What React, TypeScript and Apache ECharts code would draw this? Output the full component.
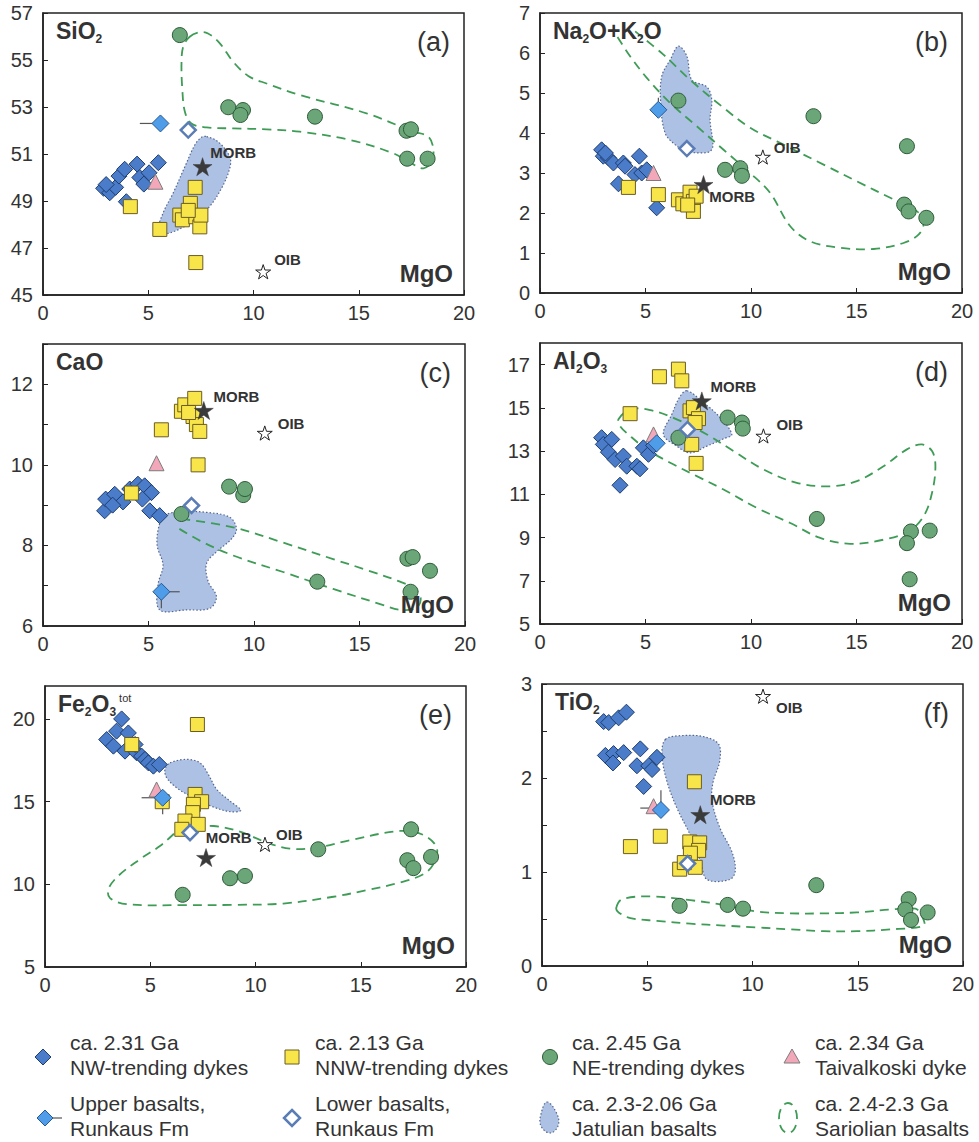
import React, { useEffect, useRef } from "react";
import * as echarts from "echarts";

const FONT = '"Liberation Sans", Arial, Helvetica, sans-serif';
const STAR =
  "path://M50,0 L61.2,34.5 L97.6,34.5 L68.2,55.9 L79.4,90.5 L50,69.1 L20.6,90.5 L31.8,55.9 L2.4,34.5 L38.8,34.5 Z";

// ---------- X axis (MgO, wt%) ----------
const X_MIN = 0;
const X_MAX = 20;
const X_INTERVAL = 5;

// ---------- Panel (a) SiO2 ----------
const NW_A = [[2.88, 49.54], [3.17, 49.35], [3.45, 49.58], [3.61, 50.06], [3.88, 50.35], [4.47, 50.57], [4.6, 50.0], [4.79, 49.72], [5.04, 50.2], [5.48, 50.63], [3.96, 48.97], [3.0, 49.7]];
const NNW_A = [[4.15, 48.76], [5.55, 47.79], [6.5, 48.4], [6.62, 48.2], [7.0, 48.9], [7.23, 49.58], [7.26, 48.33], [7.45, 47.9], [7.5, 48.4], [7.26, 46.38], [6.9, 48.6]];
const NE_A = [[6.5, 56.06], [8.8, 52.99], [9.5, 52.87], [9.38, 52.66], [12.92, 52.59], [17.27, 51.99], [17.48, 52.05], [17.3, 50.8], [18.27, 50.8]];
const TAIV_A = [[5.34, 49.82]];
const UPPER_A = [[5.58, 52.3]];
const UPPER_ERR_A = [[4.6, 52.3, 5.58, 52.3]];
const LOWER_A = [[6.9, 52.02]];
const MORB_A = [[7.58, 50.46]];
const OIB_A = [[10.46, 45.99]];
const JATULIAN_A = [[7.77, 51.74], [8.32, 51.52], [8.87, 50.89], [8.87, 50.39], [8.48, 49.54], [7.84, 48.69], [6.97, 48.05], [5.94, 47.62], [5.47, 47.7], [5.7, 48.48], [6.18, 49.33], [6.74, 50.46], [7.21, 51.38], [7.53, 51.71]];
const SARIOLIAN_A = [[6.97, 55.99], [7.45, 56.18], [7.84, 56.13], [8.4, 55.71], [9.03, 54.93], [9.75, 54.32], [10.62, 54.0], [12.2, 53.51], [15.37, 52.73], [17.59, 51.95], [18.3, 51.74], [18.54, 51.24], [18.46, 50.67], [18.07, 50.39], [17.51, 50.6], [16.64, 51.03], [14.58, 51.6], [12.2, 51.95], [10.62, 52.05], [9.03, 52.09], [7.77, 52.13], [7.05, 52.3], [6.74, 52.8], [6.62, 53.72], [6.58, 54.86], [6.66, 55.57]];

// ---------- Panel (b) Na2O+K2O ----------
const NW_B = [[2.92, 3.58], [3.0, 3.42], [3.24, 3.38], [3.48, 3.25], [3.95, 3.25], [4.03, 3.17], [3.72, 2.73], [4.71, 3.42], [4.5, 2.96], [4.82, 3.0], [5.06, 3.08], [5.53, 2.13], [3.1, 3.5]];
const NNW_B = [[4.19, 2.64], [5.61, 2.46], [6.56, 2.33], [6.77, 2.23], [7.11, 2.52], [7.27, 2.29], [7.4, 2.42], [7.27, 2.04], [7.0, 2.2]];
const NE_B = [[6.56, 4.81], [8.77, 3.08], [9.49, 3.12], [9.57, 2.93], [12.96, 4.42], [17.39, 3.67], [17.26, 2.21], [17.47, 2.04], [18.31, 1.88]];
const TAIV_B = [[5.38, 3.0]];
const UPPER_B = [[5.61, 4.58]];
const UPPER_ERR_B = [[5.61, 4.58, 5.61, 4.88]];
const LOWER_B = [[6.96, 3.61]];
const MORB_B = [[7.75, 2.71]];
const OIB_B = [[10.56, 3.4]];
const JATULIAN_B = [[6.56, 6.17], [6.96, 5.92], [7.19, 5.33], [7.91, 5.15], [8.14, 4.83], [8.06, 4.33], [8.19, 3.67], [7.98, 3.52], [6.96, 3.54], [6.4, 3.71], [5.93, 4.0], [5.72, 4.75], [5.77, 5.42], [6.17, 5.83]];
const SARIOLIAN_B = [[4.51, 6.54], [5.85, 5.96], [7.11, 5.33], [8.7, 4.63], [9.96, 4.13], [11.23, 3.79], [13.44, 3.21], [15.02, 2.79], [16.6, 2.38], [17.87, 2.04], [18.18, 1.75], [17.94, 1.46], [17.23, 1.25], [15.81, 1.1], [14.23, 1.13], [12.81, 1.29], [11.86, 1.67], [10.91, 2.5], [9.96, 3.0], [8.7, 3.58], [7.43, 4.17], [6.17, 4.75], [5.06, 5.38], [4.27, 5.92], [3.6, 6.46]];

// ---------- Panel (c) CaO ----------
const NW_C = [[2.92, 8.86], [2.97, 9.15], [3.4, 9.27], [3.79, 9.08], [4.11, 9.4], [4.5, 9.52], [4.82, 9.48], [5.14, 9.31], [4.71, 9.15], [5.06, 8.86], [5.53, 8.74], [3.3, 9.0]];
const NNW_C = [[4.19, 9.3], [5.61, 10.87], [6.56, 11.33], [6.72, 11.49], [7.19, 11.65], [7.11, 11.2], [7.27, 11.0], [7.43, 10.83], [7.35, 10.0], [6.9, 11.3]];
const NE_C = [[6.56, 8.78], [8.82, 9.46], [9.49, 9.25], [9.57, 9.4], [13.0, 7.1], [17.27, 7.67], [17.52, 7.71], [18.34, 7.37], [17.42, 6.85]];
const TAIV_C = [[5.38, 10.04]];
const UPPER_C = [[5.61, 6.85]];
const UPPER_ERR_C = [[5.61, 6.85, 6.48, 6.85], [5.61, 6.85, 5.61, 6.44]];
const LOWER_C = [[7.04, 8.99]];
const MORB_C = [[7.62, 11.35]];
const OIB_C = [[10.51, 10.79]];
const JATULIAN_C = [[5.77, 8.74], [6.48, 8.84], [7.75, 8.82], [8.85, 8.7], [9.17, 8.41], [8.93, 8.16], [8.22, 7.84], [7.75, 7.55], [7.83, 7.1], [8.22, 6.73], [7.91, 6.44], [6.8, 6.4], [5.53, 6.4], [5.45, 7.02], [5.69, 7.51], [5.41, 8.0], [5.5, 8.49]];
const SARIOLIAN_C = [[6.56, 8.66], [9.01, 8.45], [11.38, 8.07], [13.75, 7.66], [15.34, 7.39], [16.92, 7.1], [17.63, 6.92], [17.9, 6.69], [17.7, 6.45], [16.92, 6.4], [16.13, 6.52], [13.75, 6.92], [11.38, 7.34], [9.01, 7.75], [7.43, 8.12], [6.25, 8.48]];

// ---------- Panel (d) Al2O3 ----------
const NW_D = [[2.92, 13.62], [3.0, 13.31], [3.4, 13.54], [3.24, 12.95], [3.56, 12.61], [3.95, 12.77], [4.11, 12.3], [4.59, 12.3], [4.74, 12.18], [4.9, 13.15], [5.14, 12.85], [5.38, 13.26], [3.79, 11.42]];
const NNW_D = [[4.27, 14.73], [5.66, 16.44], [6.56, 16.79], [6.72, 16.25], [7.11, 14.86], [7.27, 15.01], [7.51, 14.5], [7.35, 14.32], [7.19, 13.31], [7.4, 12.43]];
const NE_D = [[6.56, 13.62], [8.89, 14.55], [9.57, 14.32], [9.61, 14.04], [13.12, 9.86], [17.58, 9.28], [17.39, 8.74], [18.47, 9.32], [17.52, 7.07]];
const TAIV_D = [[5.38, 13.77]];
const UPPER_D = [[5.53, 13.36]];
const UPPER_ERR_D = [[5.53, 13.36, 5.53, 12.95]];
const LOWER_D = [[6.99, 14.0]];
const MORB_D = [[7.67, 15.32]];
const OIB_D = [[10.59, 13.7]];
const JATULIAN_D = [[6.96, 15.79], [7.75, 15.24], [8.54, 14.55], [9.09, 13.77], [8.7, 13.57], [7.91, 13.23], [7.11, 12.92], [6.48, 13.23], [5.85, 13.77], [6.25, 14.7], [6.61, 15.48]];
const SARIOLIAN_D = [[3.72, 14.47], [4.27, 14.93], [5.22, 14.9], [6.48, 14.47], [7.91, 13.77], [9.17, 13.0], [10.59, 12.15], [12.17, 11.53], [13.75, 11.37], [15.02, 11.61], [16.28, 12.3], [17.39, 13.08], [18.1, 13.31], [18.58, 13.0], [18.74, 12.3], [18.58, 11.07], [18.18, 9.98], [17.47, 9.28], [16.28, 8.9], [14.7, 8.71], [13.28, 8.98], [11.86, 9.67], [10.28, 10.37], [8.7, 11.22], [7.43, 11.84], [6.17, 12.46], [5.06, 13.08], [4.27, 13.7], [3.79, 14.16]];

// ---------- Panel (e) Fe2O3tot ----------
const NW_E = [[2.93, 18.76], [3.25, 18.36], [3.4, 19.27], [3.64, 20.01], [3.96, 19.16], [3.8, 18.06], [4.35, 17.96], [4.59, 17.76], [4.75, 17.56], [4.91, 17.35], [5.15, 17.15], [5.43, 17.25], [4.28, 18.46]];
const NNW_E = [[4.12, 18.46], [7.24, 19.67], [5.57, 15.0], [7.13, 15.44], [7.44, 15.0], [7.05, 14.84], [7.02, 14.34], [6.65, 13.83], [7.28, 13.63], [6.5, 13.33]];
const NE_E = [[6.54, 9.37], [8.79, 10.37], [9.5, 10.51], [12.98, 12.12], [17.39, 13.33], [17.21, 11.46], [17.5, 10.98], [18.34, 11.66]];
const TAIV_E = [[5.3, 15.74]];
const UPPER_E = [[5.59, 15.24]];
const UPPER_ERR_E = [[4.59, 15.24, 5.59, 15.24], [5.59, 15.24, 5.59, 14.24]];
const LOWER_E = [[6.89, 13.13]];
const MORB_E = [[7.65, 11.62]];
const OIB_E = [[10.45, 12.42]];
const JATULIAN_E = [[5.94, 17.35], [6.73, 17.56], [7.36, 17.35], [7.76, 16.65], [8.16, 15.74], [8.79, 15.04], [9.3, 14.48], [8.79, 14.4], [8.0, 14.68], [7.05, 15.24], [6.25, 15.85], [5.78, 16.45], [5.7, 16.95]];
const SARIOLIAN_E = [[6.41, 13.43], [8.0, 13.53], [9.26, 13.19], [10.53, 12.53], [11.64, 12.16], [12.91, 12.22], [14.49, 12.67], [16.86, 13.23], [17.97, 12.99], [18.61, 12.22], [18.45, 11.22], [17.97, 10.61], [16.86, 10.11], [15.28, 9.65], [13.7, 9.25], [11.32, 8.84], [8.95, 8.76], [6.57, 8.74], [3.88, 8.8], [3.09, 9.17], [3.01, 9.71], [3.48, 10.51], [4.51, 11.52], [5.46, 12.32], [6.1, 13.03]];

// ---------- Panel (f) TiO2 ----------
const NW_F = [[2.93, 2.6], [3.17, 2.59], [3.64, 2.64], [4.01, 2.7], [3.01, 2.24], [3.4, 2.26], [3.37, 2.16], [3.88, 2.27], [4.67, 2.31], [4.51, 2.13], [5.07, 2.13], [5.46, 2.22], [4.83, 1.91], [5.23, 2.09]];
const NNW_F = [[4.2, 1.27], [5.62, 1.38], [7.24, 1.96], [7.02, 1.32], [7.49, 1.31], [7.44, 1.23], [7.05, 1.2], [6.54, 1.03], [7.28, 1.05], [6.76, 1.1]];
const NE_F = [[6.54, 0.64], [8.82, 0.65], [9.55, 0.61], [13.03, 0.86], [17.42, 0.71], [17.26, 0.6], [17.53, 0.49], [18.32, 0.57]];
const TAIV_F = [[5.3, 1.7]];
const UPPER_F = [[5.65, 1.66]];
const UPPER_ERR_F = [[4.67, 1.68, 5.65, 1.68], [5.65, 1.66, 5.65, 1.87]];
const LOWER_F = [[6.92, 1.09]];
const MORB_F = [[7.52, 1.61]];
const OIB_F = [[10.5, 2.87]];
const JATULIAN_F = [[5.86, 2.41], [6.57, 2.45], [7.68, 2.44], [8.39, 2.36], [8.44, 2.18], [8.12, 1.95], [8.08, 1.75], [8.47, 1.46], [9.03, 1.21], [9.18, 1.01], [8.92, 0.92], [7.84, 0.92], [7.55, 1.1], [7.05, 1.39], [6.41, 1.68], [5.94, 1.96], [5.7, 2.25]];
const SARIOLIAN_F = [[3.53, 0.62], [3.8, 0.71], [5.15, 0.74], [7.05, 0.7], [8.63, 0.65], [10.21, 0.58], [11.8, 0.56], [13.38, 0.56], [14.96, 0.57], [16.55, 0.6], [17.74, 0.61], [18.05, 0.53], [18.13, 0.43], [16.55, 0.39], [14.96, 0.37], [13.38, 0.37], [11.8, 0.39], [10.21, 0.41], [8.63, 0.43], [7.05, 0.45], [5.46, 0.48], [4.2, 0.51], [3.64, 0.57]];

// ---------- Legend labels ----------
const LEGEND_LABELS = [
  "ca. 2.31 Ga\nNW-trending dykes",
  "ca. 2.13 Ga\nNNW-trending dykes",
  "ca. 2.45 Ga\nNE-trending dykes",
  "ca. 2.34 Ga\nTaivalkoski dyke",
  "Upper basalts,\nRunkaus Fm",
  "Lower basalts,\nRunkaus Fm",
  "ca. 2.3-2.06 Ga\nJatulian basalts",
  "ca. 2.4-2.3 Ga\nSariolian basalts",
];

// ---------- Styles ----------
const C = {
  nw: "#4a7cc9", nwB: "#1f3d6e",
  nnw: "#f8e54a", nnwB: "#6b5c22",
  ne: "#6aa677", neB: "#2e5b39",
  tai: "#f3a8ba", taiB: "#7c7c7c",
  up: "#4f9de8", upB: "#255a95",
  low: "#ffffff", lowB: "#5a7db5",
  jat: "rgba(150,176,222,0.78)", jatB: "#56678f",
  sar: "#3e9c56",
  morb: "#3a3a3a",
  axis: "#222", text: "#333",
};

type Panel = {
  grid: { left: number; top: number; width: number; height: number };
  y: { min: number; max: number; interval: number; labelEvery?: number };
  oxide: string;
  letter: string;
  nw: number[][]; nnw: number[][]; ne: number[][]; tai: number[][];
  up: number[][]; upErr: number[][]; low: number[][];
  morb: number[][]; oib: number[][];
  jat: number[][]; sar: number[][]; sarClosed: boolean;
  morbOff: number[]; oibOff: number[];
};

const PANELS: Panel[] = [
  { grid: { left: 43, top: 13, width: 421, height: 282 }, y: { min: 45, max: 57, interval: 2 },
    oxide: "{m|SiO}{s|2}", letter: "(a)",
    nw: NW_A, nnw: NNW_A, ne: NE_A, tai: TAIV_A, up: UPPER_A, upErr: UPPER_ERR_A, low: LOWER_A, morb: MORB_A, oib: OIB_A,
    jat: JATULIAN_A, sar: SARIOLIAN_A, sarClosed: true, morbOff: [-2, -14], oibOff: [3, -12] },
  { grid: { left: 540, top: 13, width: 422, height: 280 }, y: { min: 0, max: 7, interval: 1 },
    oxide: "{m|Na}{s|2}{m|O+K}{s|2}{m|O}", letter: "(b)",
    nw: NW_B, nnw: NNW_B, ne: NE_B, tai: TAIV_B, up: UPPER_B, upErr: UPPER_ERR_B, low: LOWER_B, morb: MORB_B, oib: OIB_B,
    jat: JATULIAN_B, sar: SARIOLIAN_B, sarClosed: false, morbOff: [-4, 12], oibOff: [3, -10] },
  { grid: { left: 43, top: 344, width: 422, height: 282 }, y: { min: 6, max: 13, interval: 1, labelEvery: 2 },
    oxide: "{m|CaO}", letter: "(c)",
    nw: NW_C, nnw: NNW_C, ne: NE_C, tai: TAIV_C, up: UPPER_C, upErr: UPPER_ERR_C, low: LOWER_C, morb: MORB_C, oib: OIB_C,
    jat: JATULIAN_C, sar: SARIOLIAN_C, sarClosed: false, morbOff: [0, -14], oibOff: [5, -10] },
  { grid: { left: 540, top: 343, width: 422, height: 281 }, y: { min: 5, max: 18, interval: 2 },
    oxide: "{m|Al}{s|2}{m|O}{s|3}", letter: "(d)",
    nw: NW_D, nnw: NNW_D, ne: NE_D, tai: TAIV_D, up: UPPER_D, upErr: UPPER_ERR_D, low: LOWER_D, morb: MORB_D, oib: OIB_D,
    jat: JATULIAN_D, sar: SARIOLIAN_D, sarClosed: true, morbOff: [-1, -14], oibOff: [5, -11] },
  { grid: { left: 45, top: 686, width: 421, height: 281 }, y: { min: 5, max: 22, interval: 5 },
    oxide: "{m|Fe}{s|2}{m|O}{s|3}{t|tot}", letter: "(e)",
    nw: NW_E, nnw: NNW_E, ne: NE_E, tai: TAIV_E, up: UPPER_E, upErr: UPPER_ERR_E, low: LOWER_E, morb: MORB_E, oib: OIB_E,
    jat: JATULIAN_E, sar: SARIOLIAN_E, sarClosed: true, morbOff: [-10, -20], oibOff: [3, -10] },
  { grid: { left: 542, top: 684, width: 421, height: 282 }, y: { min: 0, max: 3, interval: 0.5, labelEvery: 1 },
    oxide: "{m|TiO}{s|2}", letter: "(f)",
    nw: NW_F, nnw: NNW_F, ne: NE_F, tai: TAIV_F, up: UPPER_F, upErr: UPPER_ERR_F, low: LOWER_F, morb: MORB_F, oib: OIB_F,
    jat: JATULIAN_F, sar: SARIOLIAN_F, sarClosed: true, morbOff: [0, -15], oibOff: [5, 11] },
];

function shapeSeries(i: number, pts: number[][], kind: "jat" | "sar", closed: boolean) {
  return {
    type: "custom",
    xAxisIndex: i,
    yAxisIndex: i,
    coordinateSystem: "cartesian2d",
    silent: true,
    clip: false,
    z: kind === "jat" ? 1 : 2,
    data: [pts[0]],
    renderItem: (_params: any, api: any) => {
      const points = pts.map((p) => api.coord(p));
      if (kind === "jat") {
        return {
          type: "polygon",
          shape: { points, smooth: 0.35 },
          style: { fill: C.jat, stroke: C.jatB, lineWidth: 1.2, lineDash: [1.5, 2] },
        };
      }
      return {
        type: closed ? "polygon" : "polyline",
        shape: { points, smooth: 0.35 },
        style: { fill: "none", stroke: C.sar, lineWidth: 1.8, lineDash: [9, 6] },
      };
    },
  };
}

function errSeries(i: number, segs: number[][]) {
  return {
    type: "custom",
    xAxisIndex: i,
    yAxisIndex: i,
    coordinateSystem: "cartesian2d",
    silent: true,
    z: 3,
    encode: { x: [0, 2], y: [1, 3] },
    data: segs,
    renderItem: (_params: any, api: any) => {
      const a = api.coord([api.value(0), api.value(1)]);
      const b = api.coord([api.value(2), api.value(3)]);
      return {
        type: "line",
        shape: { x1: a[0], y1: a[1], x2: b[0], y2: b[1] },
        style: { stroke: "#555", lineWidth: 1.2 },
      };
    },
  };
}

function scatter(i: number, data: number[][], symbol: string, size: number, color: string, border: string, bw: number, z: number, extra: any = {}) {
  return {
    type: "scatter",
    xAxisIndex: i,
    yAxisIndex: i,
    data,
    symbol,
    symbolSize: size,
    symbolKeepAspect: true,
    silent: true,
    z,
    itemStyle: { color, borderColor: border, borderWidth: bw, opacity: 1 },
    ...extra,
  };
}

function buildOption() {
  const grid: any[] = [];
  const xAxis: any[] = [];
  const yAxis: any[] = [];
  const series: any[] = [];
  const graphic: any[] = [];

  PANELS.forEach((p, i) => {
    const g = p.grid;
    grid.push({
      left: g.left, top: g.top, width: g.width, height: g.height,
      show: true, borderColor: C.axis, borderWidth: 1.5, backgroundColor: "transparent",
      containLabel: false, outerBoundsMode: "none",
    });
    xAxis.push({
      type: "value", gridIndex: i, min: X_MIN, max: X_MAX, interval: X_INTERVAL,
      axisLine: { show: true, onZero: false, lineStyle: { color: C.axis, width: 1.5 } },
      axisTick: { show: true, inside: true, length: 5, lineStyle: { color: C.axis, width: 1 } },
      axisLabel: { fontSize: 20, color: C.text, margin: 8, fontFamily: FONT },
      splitLine: { show: false },
    });
    const every = p.y.labelEvery;
    yAxis.push({
      type: "value", gridIndex: i, min: p.y.min, max: p.y.max, interval: p.y.interval,
      axisLine: { show: true, onZero: false, lineStyle: { color: C.axis, width: 1.5 } },
      axisTick: { show: true, inside: true, length: 5, lineStyle: { color: C.axis, width: 1 } },
      axisLabel: {
        fontSize: 20, color: C.text, margin: 10, fontFamily: FONT, showMaxLabel: (p.y.max - p.y.min) % p.y.interval === 0,
        formatter: (v: number) => (every ? (Math.abs(v / every - Math.round(v / every)) < 1e-6 ? String(v) : "") : String(v)),
      },
      splitLine: { show: false },
    });

    series.push(shapeSeries(i, p.jat, "jat", true));
    series.push(shapeSeries(i, p.sar, "sar", p.sarClosed));
    series.push(errSeries(i, p.upErr));
    series.push(scatter(i, p.nw, "diamond", 16, C.nw, C.nwB, 1, 4));
    series.push(scatter(i, p.nnw, "rect", 14, C.nnw, C.nnwB, 1, 5));
    series.push(scatter(i, p.ne, "circle", 15, C.ne, C.neB, 1, 6));
    series.push(scatter(i, p.tai, "triangle", 15, C.tai, C.taiB, 1, 7));
    series.push(scatter(i, p.up, "diamond", 17, C.up, C.upB, 1, 8));
    series.push(scatter(i, p.low, "diamond", 15, C.low, C.lowB, 2.5, 9));
    series.push(scatter(i, p.morb, STAR, 19, C.morb, C.morb, 0.5, 10, {
      label: { show: true, formatter: "MORB", position: "right", distance: 0, offset: p.morbOff, fontSize: 15, fontWeight: "bold", color: C.text, fontFamily: FONT },
    }));
    series.push(scatter(i, p.oib, STAR, 15, "#ffffff", "#222", 1, 10, {
      label: { show: true, formatter: "OIB", position: "right", distance: 0, offset: p.oibOff, fontSize: 15, fontWeight: "bold", color: C.text, fontFamily: FONT },
    }));

    const right = g.left + g.width;
    const bottom = g.top + g.height;
    graphic.push({
      type: "text", x: g.left + 13, y: g.top + 18, z: 20,
      style: {
        text: p.oxide, verticalAlign: "middle", align: "left", fill: C.text,
        rich: {
          m: { fontSize: 23, fontWeight: "bold", fontFamily: FONT, fill: C.text, verticalAlign: "top", lineHeight: 24 },
          s: { fontSize: 12, fontWeight: "bold", fontFamily: FONT, fill: C.text, verticalAlign: "top", lineHeight: 12, padding: [14, 0, 0, 0] },
          t: { fontSize: 11, fontFamily: FONT, fill: C.text, verticalAlign: "top", lineHeight: 11, padding: [0, 0, 0, 3] },
        },
      },
    });
    graphic.push({
      type: "text", x: right - 14, y: g.top + 29, z: 20,
      style: { text: p.letter, align: "right", verticalAlign: "middle", fontSize: 27, fontFamily: FONT, fill: C.text },
    });
    graphic.push({
      type: "text", x: right - 11, y: bottom - 22, z: 20,
      style: { text: "MgO", align: "right", verticalAlign: "middle", fontSize: 24, fontWeight: "bold", fontFamily: FONT, fill: C.text },
    });
  });

  // ---------- legend ----------
  const colX = [43, 292, 550, 792];
  const textX = [70, 315, 572, 815];
  const rowY = [1057, 1118];
  const dia = (cx: number, cy: number, r: number) => [[cx, cy - r], [cx + r, cy], [cx, cy + r], [cx - r, cy]];
  graphic.push({ type: "polygon", shape: { points: dia(colX[0], rowY[0], 8) }, style: { fill: C.nw, stroke: C.nwB, lineWidth: 1 } });
  graphic.push({ type: "rect", shape: { x: colX[1] - 7, y: rowY[0] - 7, width: 14, height: 14 }, style: { fill: C.nnw, stroke: C.nnwB, lineWidth: 1 } });
  graphic.push({ type: "circle", shape: { cx: colX[2], cy: rowY[0], r: 7.5 }, style: { fill: C.ne, stroke: C.neB, lineWidth: 1 } });
  graphic.push({ type: "polygon", shape: { points: [[colX[3], rowY[0] - 8], [colX[3] + 8, rowY[0] + 6], [colX[3] - 8, rowY[0] + 6]] }, style: { fill: C.tai, stroke: C.taiB, lineWidth: 1 } });
  graphic.push({ type: "line", shape: { x1: colX[0] + 6, y1: rowY[1], x2: colX[0] + 19, y2: rowY[1] }, style: { stroke: "#555", lineWidth: 1.2 } });
  graphic.push({ type: "polygon", shape: { points: dia(colX[0] + 2, rowY[1], 8) }, style: { fill: C.up, stroke: C.upB, lineWidth: 1 } });
  graphic.push({ type: "polygon", shape: { points: dia(colX[1], rowY[1], 8) }, style: { fill: C.low, stroke: C.lowB, lineWidth: 2.5 } });
  graphic.push({
    type: "polygon",
    shape: { points: [[colX[2] - 3, rowY[1] - 16], [colX[2] + 7, rowY[1] - 4], [colX[2] + 8, rowY[1] + 8], [colX[2], rowY[1] + 15], [colX[2] - 9, rowY[1] + 8], [colX[2] - 9, rowY[1] - 4]], smooth: 0.4 },
    style: { fill: C.jat, stroke: C.jatB, lineWidth: 1.2, lineDash: [1.5, 2] },
  });
  graphic.push({
    type: "ellipse", shape: { cx: colX[3] - 4, cy: rowY[1], rx: 9, ry: 15 },
    style: { fill: "none", stroke: C.sar, lineWidth: 1.8, lineDash: [9, 6] },
  });
  LEGEND_LABELS.forEach((txt, k) => {
    const col = k % 4;
    const row = Math.floor(k / 4);
    graphic.push({
      type: "text", x: textX[col], y: rowY[row] - 2,
      style: { text: txt, align: "left", verticalAlign: "middle", fontSize: 21, lineHeight: 25, fontFamily: FONT, fill: C.text },
    });
  });

  return {
    animation: false,
    backgroundColor: "#ffffff",
    textStyle: { fontFamily: FONT },
    grid, xAxis, yAxis, series, graphic,
  };
}

export default function App() {
  const ref = useRef<HTMLDivElement>(null);
  useEffect(() => {
    if (!ref.current) return;
    const chart = echarts.init(ref.current, undefined, { renderer: "svg" });
    chart.setOption(buildOption() as any);
    return () => chart.dispose();
  }, []);
  return <div ref={ref} style={{ position: "absolute", left: 0, top: 0, width: 979, height: 1142 }} />;
}
